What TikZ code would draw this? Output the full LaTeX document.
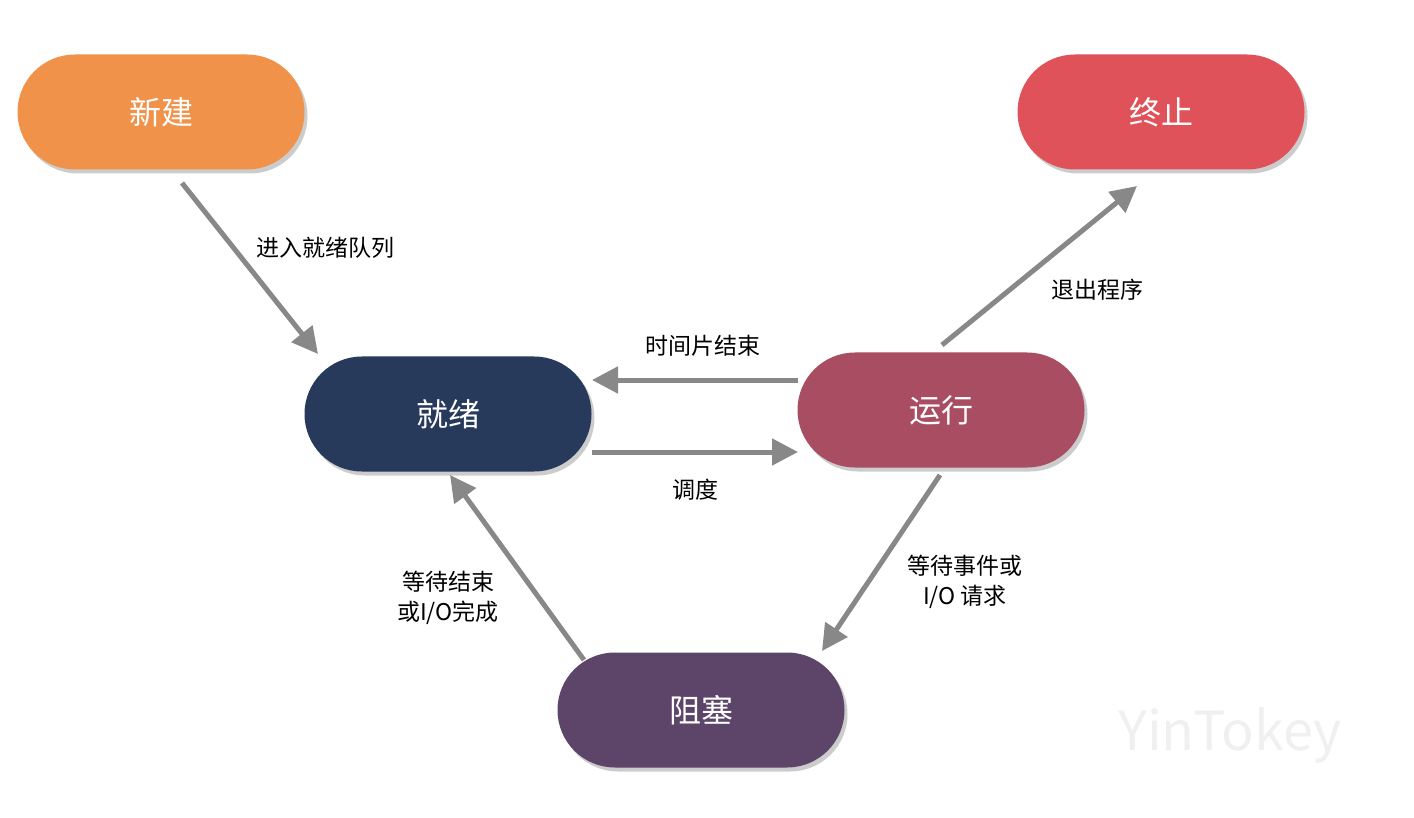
\documentclass[tikz,border=0pt]{standalone}
\usepackage{fontspec}
\setmainfont{Noto Sans CJK SC}
\usetikzlibrary{arrows.meta,shadows}
\definecolor{cnew}{HTML}{F0924A}
\definecolor{cend}{HTML}{E0525A}
\definecolor{cready}{HTML}{283A5C}
\definecolor{crun}{HTML}{A84D62}
\definecolor{cblock}{HTML}{5C4568}
\definecolor{carrow}{HTML}{888888}
\begin{document}
\begin{tikzpicture}[x=0.5pt,y=-0.5pt,
  st/.style={draw=none,minimum width=143.5pt,minimum height=57.5pt,rounded corners=28.7pt,text=white,font=\fontsize{16}{18}\selectfont,drop shadow={shadow xshift=1.5pt,shadow yshift=-2pt,opacity=0.4}},
  ar/.style={draw=carrow,line width=2.5pt,-{Triangle[length=13pt,width=13pt]}},
  lb/.style={font=\fontsize{11.5}{15}\selectfont,align=center}]
\useasboundingbox (0,0) rectangle (1414,818);
\node[st,fill=cnew] (new) at (161,112) {新建};
\node[st,fill=cend] (end) at (1161,112) {终止};
\node[st,fill=cready] (ready) at (448,414) {就绪};
\node[st,fill=crun] (run) at (941,410) {运行};
\node[st,fill=cblock] (block) at (701,710) {阻塞};
\coordinate (a1) at (182,183); \coordinate (b1) at (318,354);
\coordinate (a2) at (798,380); \coordinate (b2) at (592,380);
\coordinate (a3) at (592,452); \coordinate (b3) at (798,452);
\coordinate (a4) at (942,345); \coordinate (b4) at (1137,186);
\coordinate (a5) at (940,475); \coordinate (b5) at (822,651);
\coordinate (a6) at (584,660); \coordinate (b6) at (450,475);
\draw[ar] (a1) -- (b1);
\draw[ar] (a2) -- (b2);
\draw[ar] (a3) -- (b3);
\draw[ar] (a4) -- (b4);
\draw[ar] (a5) -- (b5);
\draw[ar] (a6) -- (b6);
\node[lb] (l1) at (325,248) {进入就绪队列};
\node[lb] (l2) at (703,346) {时间片结束};
\node[lb] (l3) at (695,490) {调度};
\node[lb] (l4) at (1097,290) {退出程序};
\node[lb] (l5) at (965,582) {等待事件或\\I/O 请求};
\node[lb] (l6) at (448,598) {等待结束\\或I/O完成};
\node[font=\fontsize{27}{30}\selectfont,text=black!6] (wm) at (1230,735) {YinTokey};
\end{tikzpicture}
\end{document}
